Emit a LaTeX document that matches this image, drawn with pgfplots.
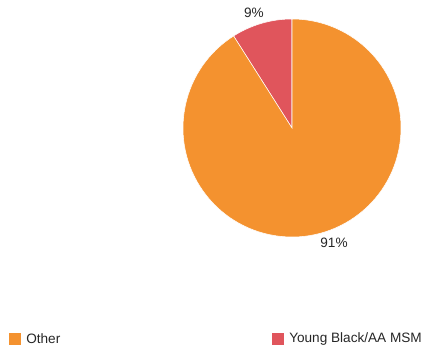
\documentclass[border=0pt]{standalone}
\usepackage{pgfplots}
\pgfplotsset{compat=1.18}
\usepackage{fontspec}
\setmainfont{Liberation Sans}
\definecolor{cOther}{HTML}{F4922F}
\definecolor{cYoung}{HTML}{E0555C}
\begin{document}
\begin{tikzpicture}
\def\vOther{91}
\def\vYoung{9}
\begin{axis}[
  scale only axis, width=318.75pt, height=262.5pt,
  xmin=0, xmax=425, ymin=0, ymax=350,
  axis lines=none, clip=false,
]
\path (axis cs:0,0) rectangle (axis cs:425,350);
\pgfmathsetmacro{\aY}{90+\vYoung*3.6}
\fill[cYoung, draw=white, line width=0.4pt] (axis cs:292,222) -- (axis cs:292,331) arc[start angle=90, end angle=\aY, radius=109] -- cycle;
\fill[cOther, draw=white, line width=0.4pt] (axis cs:292,222) -- ++(\aY:109) arc[start angle=\aY, end angle=450, radius=109] -- cycle;
\node[font=\fontsize{10.2}{12}\selectfont, text=black!85] at (axis cs:254,337) {9\%};
\node[font=\fontsize{10.2}{12}\selectfont, text=black!85] at (axis cs:334,107) {91\%};
\fill[cOther] (axis cs:9,5) rectangle (axis cs:21,17);
\node[anchor=west, font=\fontsize{10.2}{12}\selectfont, text=black!85, inner sep=0pt] at (axis cs:26,11) {Other};
\fill[cYoung] (axis cs:272,5) rectangle (axis cs:284,17);
\node[anchor=west, font=\fontsize{10.2}{12}\selectfont, text=black!85, inner sep=0pt] at (axis cs:289,11) {Young Black/AA MSM};
\end{axis}
\end{tikzpicture}
\end{document}
